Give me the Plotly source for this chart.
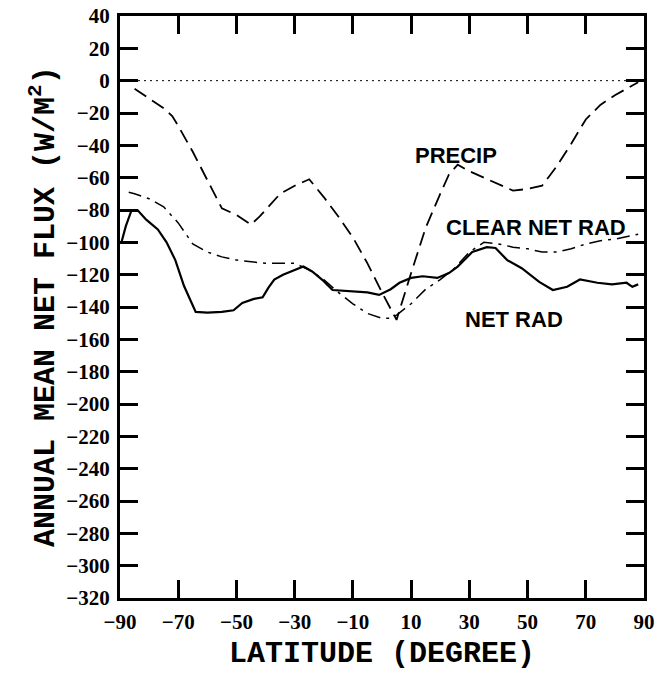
import plotly.graph_objects as go

# ---------------- data ----------------
precip_lat = [-85, -80, -75, -72, -70, -65, -60, -55, -50, -45, -42, -40, -35, -30, -25,
              -20, -15, -10, -5, 0, 2, 5, 10, 15, 20, 23, 26, 30, 35, 40, 45, 50, 55,
              60, 65, 70, 75, 80, 85, 88]
precip_val = [-5, -11, -17, -22, -28, -44, -61, -79, -83, -89, -84, -80, -70, -65, -61,
              -72, -84, -97, -113, -131, -138, -148, -119, -91, -70, -58, -52, -56, -60, -64, -68, -67, -65,
              -53, -39, -24, -15, -9, -4, -1]

clear_lat = [-87, -85, -80, -75, -70, -65, -60, -55, -50, -45, -40, -35, -30, -25, -20, -15,
             -10, -5, 0, 3, 5, 10, 15, 20, 25, 30, 35, 40, 45, 50, 55, 60, 65, 70, 75, 80, 85, 88]
clear_val = [-69, -70, -73, -78, -88, -101, -106, -109, -111, -112, -113, -113, -113, -117, -123, -131,
             -138, -144, -147, -147, -145, -138, -129, -123, -116, -106, -100, -101, -103, -104, -106, -106, -104, -101, -99, -98, -96, -95]

net_lat = [-89.5, -88, -86, -84, -81, -77, -74, -71, -68, -64, -60, -55, -51, -48, -44, -41, -39, -37,
           -34, -30, -27, -24, -20, -17, -13, -9, -5, -1, 3, 6, 10, 14, 19, 23, 26, 31, 36, 39, 43, 48,
           54, 58.7, 63.6, 68, 74, 79, 84, 86, 88]
net_val = [-100, -90, -80, -80, -86, -92, -100, -111, -127, -143, -143.5, -143, -142, -137.5, -135, -134, -128, -123,
           -120, -117, -115, -118, -124, -129.5, -130, -130.5, -131, -132.5, -129, -125, -122, -121, -122, -119, -115, -106, -103, -103.5, -111, -116,
           -124.5, -129.5, -127.5, -123, -125, -126, -125, -127.5, -126]

zero_lat = [-90, 90]
zero_val = [0, 0]

x_ticks = [-90, -70, -50, -30, -10, 10, 30, 50, 70, 90]
y_ticks = list(range(40, -321, -20))

labels = ["PRECIP", "CLEAR NET RAD", "NET RAD"]
label_lat = [25.5, 53, 45.5]
label_val = [-46, -91, -147.5]

x_title = "LATITUDE (DEGREE)"
y_title = "ANNUAL MEAN NET FLUX (W/M<sup>2</sup>)"


def fmt(v):
    return ("\u2212" + str(abs(v))) if v < 0 else str(v)


fig = go.Figure()
fig.add_trace(go.Scatter(x=zero_lat, y=zero_val, mode="lines",
                         line=dict(color="black", width=1, dash="2px,4px"), hoverinfo="skip"))
fig.add_trace(go.Scatter(x=precip_lat, y=precip_val, mode="lines",
                         line=dict(color="black", width=1.8, dash="14px,7px")))
fig.add_trace(go.Scatter(x=clear_lat, y=clear_val, mode="lines",
                         line=dict(color="black", width=1.5, dash="13px,6px,3px,6px")))
fig.add_trace(go.Scatter(x=net_lat, y=net_val, mode="lines",
                         line=dict(color="black", width=2.2)))

for t, x, y in zip(labels, label_lat, label_val):
    fig.add_annotation(x=x, y=y, xref="x", yref="y", text=t, showarrow=False,
                       font=dict(family="Liberation Sans, Arial, sans-serif", size=22,
                                 color="black", weight="bold"))

tickfont = dict(family="Liberation Serif, Times New Roman, serif", size=21, color="black", weight="bold")
titlefont = dict(family="Liberation Mono, Courier New, monospace", size=30, color="black", weight="bold")

# y-axis title as a rotated paper annotation, centred on the plot height
fig.add_annotation(xref="paper", yref="paper", x=0, y=0.5, xshift=-77, text=y_title,
                   textangle=-90, showarrow=False, xanchor="center", yanchor="middle",
                   font=titlefont)

fig.update_xaxes(range=[-90, 90], tickvals=x_ticks, ticktext=[fmt(v) for v in x_ticks],
                 ticks="inside", ticklen=18, tickwidth=3, tickcolor="black",
                 showline=True, linewidth=3, linecolor="black", mirror="ticks",
                 showgrid=False, zeroline=False, tickfont=tickfont, ticklabelstandoff=3,
                 automargin=False,
                 title=dict(text=x_title, font=titlefont, standoff=8))
fig.update_yaxes(range=[-320, 40], tickvals=y_ticks, ticktext=[fmt(v) for v in y_ticks],
                 ticks="inside", ticklen=18, tickwidth=3, tickcolor="black",
                 showline=True, linewidth=3, linecolor="black", mirror="ticks",
                 showgrid=False, zeroline=False, tickfont=tickfont, ticklabelstandoff=3,
                 automargin=False)

fig.update_layout(width=655, height=679, margin=dict(l=120, r=11, t=16, b=81, autoexpand=False),
                  plot_bgcolor="white", paper_bgcolor="white", showlegend=False)

fig.write_html("out.html")
